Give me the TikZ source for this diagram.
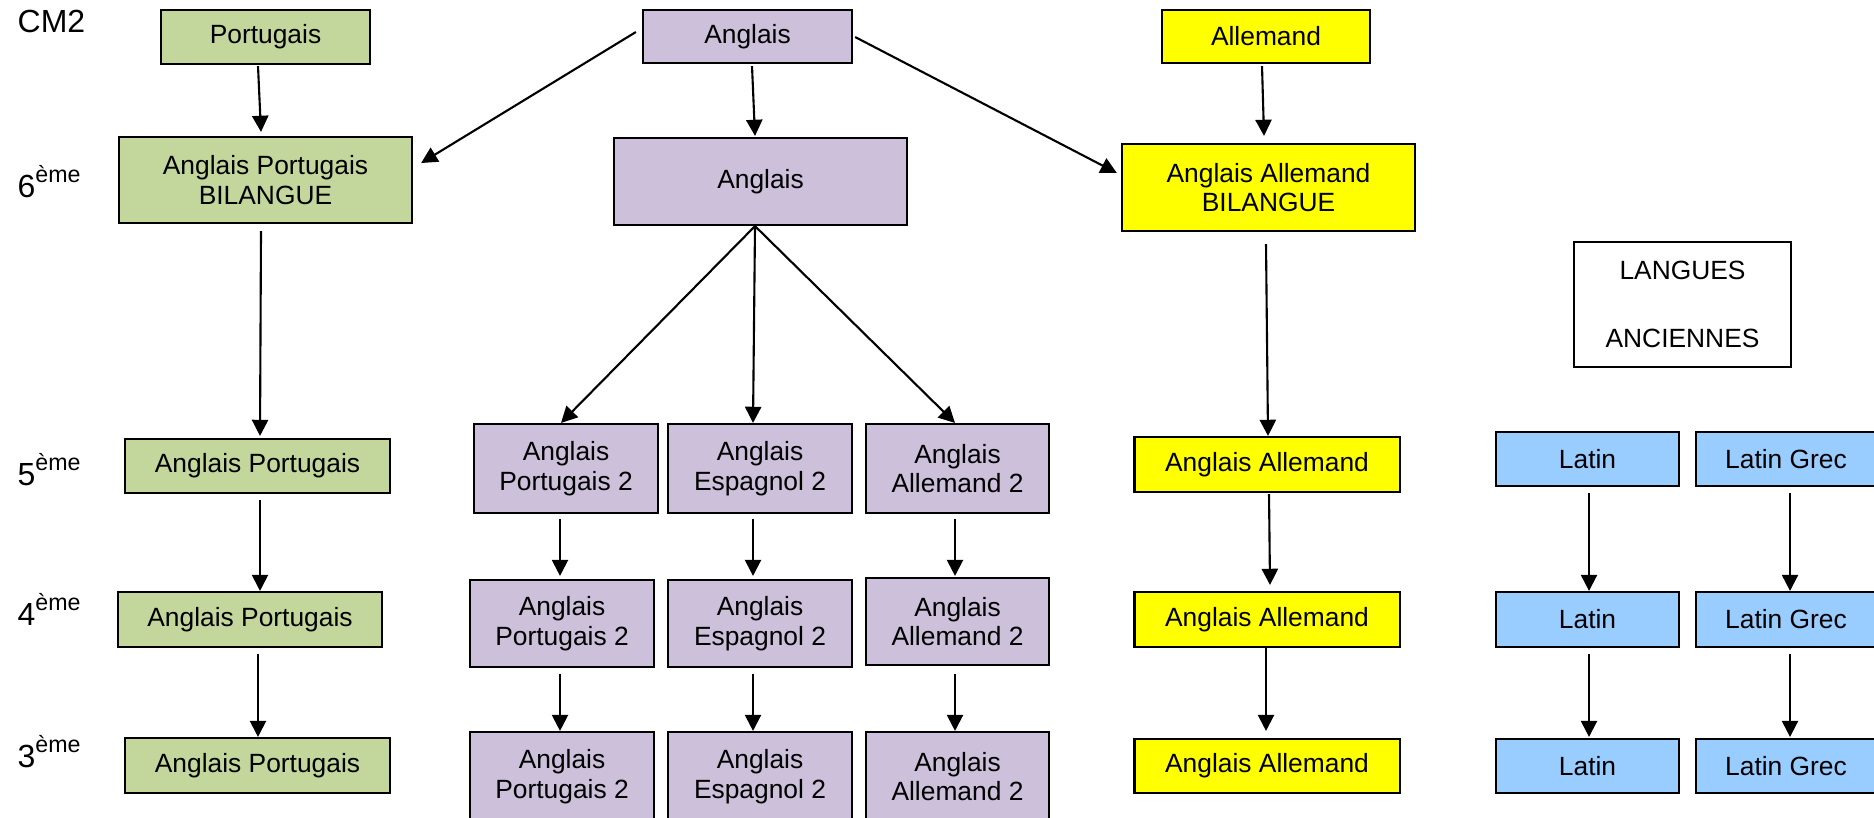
\documentclass[tikz,border=0pt]{standalone}
\usepackage{fontspec}
\setmainfont{Liberation Sans}
\usetikzlibrary{arrows.meta,calc}
\definecolor{cgreen}{RGB}{195,214,155}
\definecolor{cpurple}{RGB}{204,192,218}
\definecolor{cyellow}{RGB}{255,255,0}
\definecolor{cblue}{RGB}{153,204,255}
\begin{document}
\begin{tikzpicture}[x=0.01cm,y=-0.01cm,
  box/.style={draw=black,line width=0.6pt,rectangle,inner sep=0pt,align=center,
    font=\fontsize{7.5}{8.4}\selectfont},
  gbox/.style={box,fill=cgreen},
  pbox/.style={box,fill=cpurple},
  ybox/.style={box,fill=cyellow},
  bbox/.style={box,fill=cblue},
  wbox/.style={box,fill=white},
  arr/.style={-{Triangle[length=4.6pt,width=4.6pt]},line width=0.6pt},
  lvl/.style={anchor=base west,inner sep=0pt,font=\fontsize{9.1}{10}\selectfont}]
\useasboundingbox (0,0) rectangle (1874,817);
% level labels
\node[lvl] (cm2) at (17,32) {CM2};
\node[lvl] (l6) at (17,197) {6\raisebox{4pt}{\fontsize{6.6}{7}\selectfont ème}};
\node[lvl] (l5) at (17,485) {5\raisebox{4pt}{\fontsize{6.6}{7}\selectfont ème}};
\node[lvl] (l4) at (17,625) {4\raisebox{4pt}{\fontsize{6.6}{7}\selectfont ème}};
\node[lvl] (l3) at (17,767) {3\raisebox{4pt}{\fontsize{6.6}{7}\selectfont ème}};
% CM2 row
\node[gbox,minimum width=2.09cm,minimum height=0.54cm] (port) at (265.5,37) {Portugais};
\node[pbox,minimum width=2.09cm,minimum height=0.53cm] (angtop) at (747.5,36.5) {Anglais};
\node[ybox,minimum width=2.08cm,minimum height=0.53cm] (allem) at (1266,36.5) {Allemand};
% 6e row
\node[gbox,minimum width=2.93cm,minimum height=0.86cm] (apb) at (265.5,180) {Anglais Portugais\\BILANGUE};
\node[pbox,minimum width=2.93cm,minimum height=0.87cm] (ang6) at (760.5,181.5) {Anglais};
\node[ybox,minimum width=2.93cm,minimum height=0.87cm] (aab) at (1268.5,187.5) {Anglais Allemand\\BILANGUE};
\node[wbox,minimum width=2.17cm,minimum height=1.25cm] (lang) at (1682.5,304.5) {LANGUES\\[10.9pt]ANCIENNES};
% 5e row
\node[gbox,minimum width=2.65cm,minimum height=0.54cm] (g5) at (257.5,466) {Anglais Portugais};
\node[pbox,minimum width=1.845cm,minimum height=0.89cm] (p5a) at (566,468.5) {Anglais\\Portugais 2};
\node[pbox,minimum width=1.84cm,minimum height=0.89cm] (p5b) at (760,468.5) {Anglais\\Espagnol 2};
\node[pbox,minimum width=1.83cm,minimum height=0.89cm] (p5c) at (957.5,468.5) {Anglais\\Allemand 2};
\node[ybox,minimum width=2.65cm,minimum height=0.55cm] (y5) at (1267,464.5) {Anglais Allemand};
\node[bbox,minimum width=1.83cm,minimum height=0.54cm] (lat5) at (1587.5,459) {Latin};
\node[bbox,minimum width=1.80cm,minimum height=0.54cm] (lg5) at (1786,459) {Latin Grec};
% 4e row
\node[gbox,minimum width=2.64cm,minimum height=0.55cm] (g4) at (250,619.5) {Anglais Portugais};
\node[pbox,minimum width=1.845cm,minimum height=0.87cm] (p4a) at (562,623.5) {Anglais\\Portugais 2};
\node[pbox,minimum width=1.84cm,minimum height=0.87cm] (p4b) at (760,623.5) {Anglais\\Espagnol 2};
\node[pbox,minimum width=1.83cm,minimum height=0.87cm] (p4c) at (957.5,621.5) {Anglais\\Allemand 2};
\node[ybox,minimum width=2.65cm,minimum height=0.55cm] (y4) at (1267,619.5) {Anglais Allemand};
\node[bbox,minimum width=1.83cm,minimum height=0.55cm] (lat4) at (1587.5,619.5) {Latin};
\node[bbox,minimum width=1.80cm,minimum height=0.55cm] (lg4) at (1786,619.5) {Latin Grec};
% 3e row
\node[gbox,minimum width=2.65cm,minimum height=0.55cm] (g3) at (257.5,765.5) {Anglais Portugais};
\node[pbox,minimum width=1.845cm,minimum height=0.89cm] (p3a) at (562,776.5) {Anglais\\Portugais 2};
\node[pbox,minimum width=1.84cm,minimum height=0.89cm] (p3b) at (760,776.5) {Anglais\\Espagnol 2};
\node[pbox,minimum width=1.83cm,minimum height=0.89cm] (p3c) at (957.5,776.5) {Anglais\\Allemand 2};
\node[ybox,minimum width=2.65cm,minimum height=0.54cm] (y3) at (1267,766) {Anglais Allemand};
\node[bbox,minimum width=1.83cm,minimum height=0.54cm] (lat3) at (1587.5,766) {Latin};
\node[bbox,minimum width=1.80cm,minimum height=0.54cm] (lg3) at (1786,766) {Latin Grec};
% arrows
\draw[arr] ($(port.south)+(-7.5,1)$) -- ($(apb.north)+(-4.5,-4)$);
\draw[arr] ($(angtop.west)+(-6,-4.5)$) -- ($(apb.east)+(8,-17)$);
\draw[arr] ($(angtop.south)+(4.5,2)$) -- ($(ang6.north)+(-5.5,-1)$);
\draw[arr] ($(angtop.east)+(2,0.5)$) -- ($(aab.west)+(-4,-14.5)$);
\draw[arr] ($(allem.south)+(-4,2)$) -- ($(aab.north)+(-4.5,-7)$);
\draw[arr] ($(apb.south)+(-4.5,7)$) -- ($(g5.north)+(2.5,-2)$);
\draw[arr] ($(ang6.south)+(-5.5,0)$) -- ($(p5a.north)+(-5,0)$);
\draw[arr] ($(ang6.south)+(-5.5,0)$) -- ($(p5b.north)+(-7,0)$);
\draw[arr] ($(ang6.south)+(-5.5,0)$) -- ($(p5c.north)+(-2.5,0)$);
\draw[arr] ($(aab.south)+(-2.5,12)$) -- ($(y5.north)+(1,0)$);
\draw[arr] ($(g5.south)+(2.5,6)$) -- ($(g4.north)+(10,0)$);
\draw[arr] ($(g4.south)+(8,6)$) -- ($(g3.north)+(0.5,0)$);
\draw[arr] ($(p5a.south)+(-6,5)$) -- ($(p4a.north)+(-2,-3)$);
\draw[arr] ($(p4a.south)+(-2,6)$) -- ($(p3a.north)+(-2,0)$);
\draw[arr] ($(p5b.south)+(-7,5)$) -- ($(p4b.north)+(-7,-3)$);
\draw[arr] ($(p4b.south)+(-7,6)$) -- ($(p3b.north)+(-7,0)$);
\draw[arr] ($(p5c.south)+(-2.5,5)$) -- ($(p4c.north)+(-2.5,-1)$);
\draw[arr] ($(p4c.south)+(-2.5,8)$) -- ($(p3c.north)+(-2.5,0)$);
\draw[arr] ($(y5.south)+(2,1)$) -- ($(y4.north)+(3,-6)$);
\draw[arr] ($(y4.south)+(-1,0)$) -- ($(y3.north)+(-1,-7)$);
\draw[arr] ($(lat5.south)+(1.5,6)$) -- ($(lat4.north)+(1.5,0)$);
\draw[arr] ($(lat4.south)+(1.5,6)$) -- ($(lat3.north)+(1.5,-1)$);
\draw[arr] ($(lg5.south)+(4,6)$) -- ($(lg4.north)+(4,0)$);
\draw[arr] ($(lg4.south)+(4,6)$) -- ($(lg3.north)+(4,-1)$);
\end{tikzpicture}
\end{document}
